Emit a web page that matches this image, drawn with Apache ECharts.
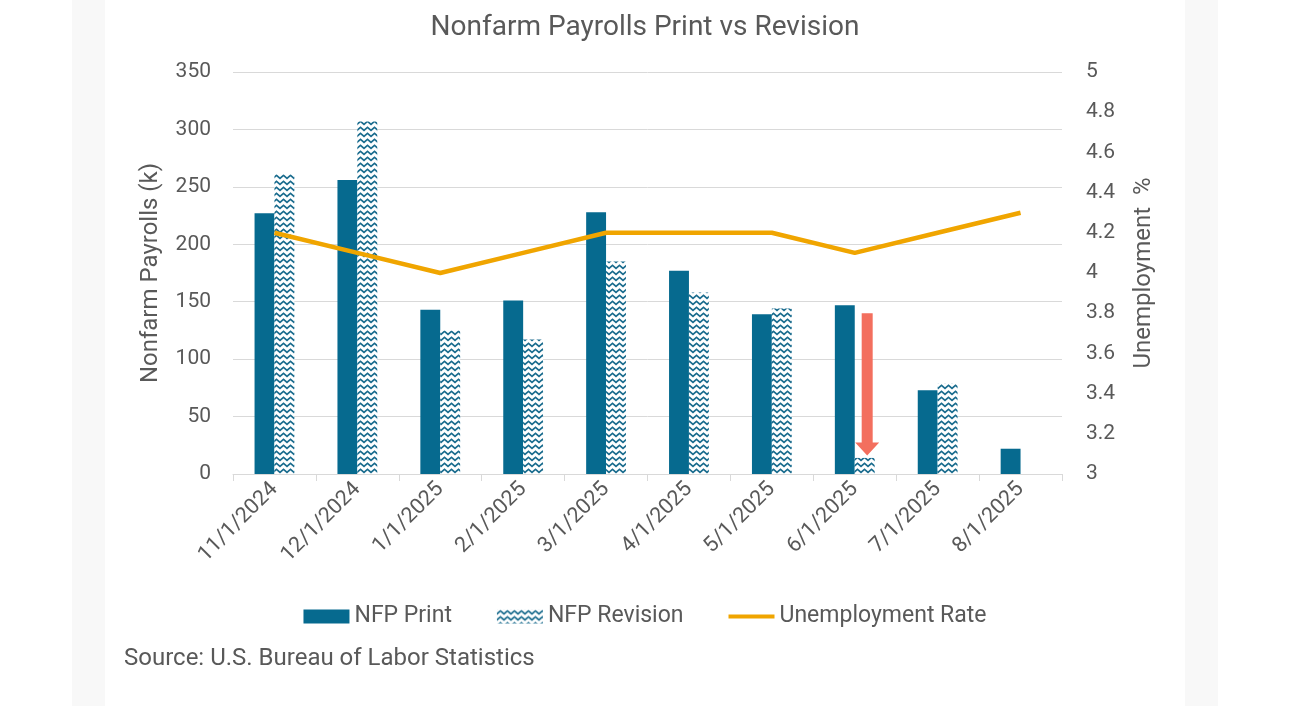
<!DOCTYPE html>
<html>
<head>
<meta charset="utf-8">
<script src="https://cdn.jsdelivr.net/npm/echarts@6/dist/echarts.min.js"></script>
<style>
html,body{margin:0;padding:0;background:#ffffff;}
#strip1{position:absolute;left:72px;top:0;width:33px;height:706px;background:#f8f8f8;}
#strip2{position:absolute;left:1185px;top:0;width:33px;height:706px;background:#f8f8f8;}
#chart{position:absolute;left:0;top:0;width:1290px;height:706px;}
</style>
</head>
<body>
<div id="strip1"></div><div id="strip2"></div>
<div id="chart"></div>
<script>
const categories = ['11/1/2024','12/1/2024','1/1/2025','2/1/2025','3/1/2025','4/1/2025','5/1/2025','6/1/2025','7/1/2025','8/1/2025'];
const nfpPrint = [227, 256, 143, 151, 228, 177, 139, 147, 73, 22];
const nfpRevision = [261, 307, 125, 117, 185, 158, 144, 14, 79, null];
const unemploymentRate = [4.2, 4.1, 4.0, 4.1, 4.2, 4.2, 4.2, 4.1, 4.2, 4.3];
const leftTicks = [0, 350, 50];   // min, max, interval
const rightTicks = [3, 5, 0.2];
// annotation arrow: [category index, from value, to value]
const arrows = [[7, 140, 16]];

const TXT = '#595959';
const BLUE = '#066a8f';
const ORANGE = '#f0a500';
const FONT = 'Roboto';

function makePattern() {
  const c = document.createElement('canvas');
  c.width = 7; c.height = 6;
  const g = c.getContext('2d');
  g.fillStyle = '#ffffff';
  g.fillRect(0, 0, 7, 6);
  g.strokeStyle = '#1a6c8e';
  g.lineWidth = 1.6;
  g.beginPath();
  g.moveTo(-3.5, 1.4); g.lineTo(0, 4.4); g.lineTo(3.5, 1.4); g.lineTo(7, 4.4); g.lineTo(10.5, 1.4);
  g.stroke();
  return c;
}
const pattern = { image: makePattern(), repeat: 'repeat' };
// line legend icon: thin bar centred in a 46x14 box (zero-area subpaths set the box)
const lineIcon = 'path://M0,0L46,0L46,0.001Z M0,5L46,5L46,9L0,9Z M0,14L46,14L46,14.001Z';

const chart = echarts.init(document.getElementById('chart'));
chart.setOption({
  backgroundColor: 'transparent',
  textStyle: { fontFamily: FONT },
  title: {
    text: 'Nonfarm Payrolls Print vs Revision',
    left: 'center', top: 9,
    textStyle: { fontFamily: FONT, fontSize: 28, fontWeight: 'normal', color: TXT }
  },
  grid: { left: 233, right: 228, top: 72, bottom: 232 },
  legend: {
    top: 600, left: 'center',
    itemWidth: 46, itemHeight: 14, itemGap: 45,
    textStyle: { fontFamily: FONT, fontSize: 23, color: TXT },
    data: [
      { name: 'NFP Print', icon: 'rect' },
      { name: 'NFP Revision', icon: 'rect' },
      { name: 'Unemployment Rate', icon: lineIcon, itemStyle: { color: ORANGE } }
    ]
  },
  graphic: [{
    type: 'text', left: 124, top: 647,
    style: { text: 'Source: U.S. Bureau of Labor Statistics', fontFamily: FONT, fontSize: 24, fill: TXT }
  }],
  xAxis: {
    type: 'category', data: categories, boundaryGap: true,
    axisLine: { lineStyle: { color: '#d9d9d9', width: 1 } },
    axisTick: { show: true, length: 7, lineStyle: { color: '#d9d9d9' } },
    axisLabel: { rotate: 45, fontFamily: FONT, fontSize: 21.5, color: TXT, margin: 12, interval: 0 }
  },
  yAxis: [{
    type: 'value', min: leftTicks[0], max: leftTicks[1], interval: leftTicks[2],
    name: 'Nonfarm Payrolls (k)', nameLocation: 'middle', nameGap: 70,
    nameTextStyle: { fontFamily: FONT, fontSize: 24, color: TXT },
    axisLine: { show: false }, axisTick: { show: false },
    axisLabel: { fontFamily: FONT, fontSize: 21, color: TXT, margin: 22 },
    splitLine: { lineStyle: { color: '#d9d9d9', width: 1 } }
  }, {
    type: 'value', min: rightTicks[0], max: rightTicks[1], interval: rightTicks[2],
    name: 'Unemployment  %', nameLocation: 'middle', nameGap: 70,
    nameTextStyle: { fontFamily: FONT, fontSize: 24, color: TXT },
    axisLine: { show: false }, axisTick: { show: false },
    axisLabel: { fontFamily: FONT, fontSize: 21, color: TXT, margin: 24 },
    splitLine: { show: false }
  }],
  series: [{
    name: 'NFP Print', type: 'bar', data: nfpPrint,
    barWidth: '24%', barGap: '0%',
    itemStyle: { color: BLUE }
  }, {
    name: 'NFP Revision', type: 'bar', data: nfpRevision,
    barWidth: '24%', barGap: '0%',
    itemStyle: { color: pattern }
  }, {
    name: 'Unemployment Rate', type: 'line', yAxisIndex: 1, data: unemploymentRate,
    symbol: 'none', z: 3,
    lineStyle: { color: ORANGE, width: 4.5 },
    itemStyle: { color: ORANGE }
  }, {
    type: 'custom', data: arrows, z: 5, silent: true,
    encode: { x: 0, y: 1 },
    renderItem: function (params, api) {
      const a = api.coord([api.value(0), api.value(1)]);
      const b = api.coord([api.value(0), api.value(2)]);
      const band = api.size([1, 0])[0];
      const x = a[0] + band * 0.15;
      const sw = 5.5, hw = 12, hh = 13;
      return {
        type: 'polygon',
        shape: { points: [
          [x - sw, a[1]], [x + sw, a[1]], [x + sw, b[1] - hh], [x + hw, b[1] - hh],
          [x, b[1]], [x - hw, b[1] - hh], [x - sw, b[1] - hh]
        ] },
        style: { fill: '#f36f5e' }
      };
    }
  }]
});
</script>
</body>
</html>
